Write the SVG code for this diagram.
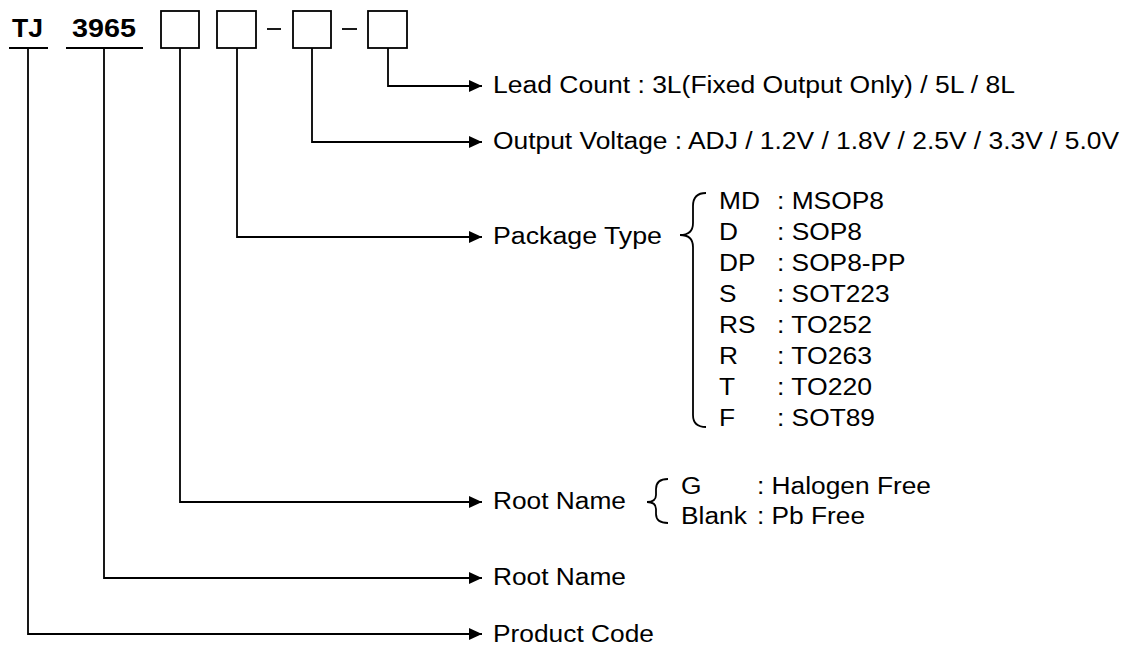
<svg xmlns="http://www.w3.org/2000/svg" width="1139" height="649" viewBox="0 0 1139 649">
<style>
.t{font-family:"Liberation Sans",Arial,sans-serif;font-size:23px;fill:#000}
.b{font-family:"Liberation Sans",Arial,sans-serif;font-size:25px;font-weight:bold;fill:#000}
.ln{fill:none;stroke:#000;stroke-width:1.8}
.bx{fill:#fff;stroke:#000;stroke-width:1.8}
</style>
<defs>
<marker id="ah" markerUnits="userSpaceOnUse" markerWidth="14" markerHeight="12" refX="13" refY="6" orient="auto">
<path d="M0,0 L13,6 L0,12 z" fill="#000"/>
</marker>
</defs>
<rect width="1139" height="649" fill="#fff"/>
<g id="code">
<text class="b" x="12" y="37" textLength="31" lengthAdjust="spacingAndGlyphs">TJ</text>
<line class="ln" x1="9" y1="48" x2="48" y2="48"/>
<text class="b" x="72" y="37" textLength="64" lengthAdjust="spacingAndGlyphs">3965</text>
<line class="ln" x1="66" y1="48" x2="143" y2="48"/>
<rect class="bx" x="161" y="11" width="38" height="37"/>
<rect class="bx" x="217" y="11" width="39" height="37"/>
<line class="ln" x1="267" y1="29" x2="281" y2="29"/>
<rect class="bx" x="293" y="11" width="38" height="37"/>
<line class="ln" x1="342" y1="29" x2="357" y2="29"/>
<rect class="bx" x="368" y="11" width="39" height="37"/>
</g>
<g id="connectors">
<path class="ln" d="M388,48 V86 H482" marker-end="url(#ah)"/>
<path class="ln" d="M312,48 V142 H482" marker-end="url(#ah)"/>
<path class="ln" d="M237,48 V237 H482" marker-end="url(#ah)"/>
<path class="ln" d="M180,48 V502 H482" marker-end="url(#ah)"/>
<path class="ln" d="M104,48 V578 H482" marker-end="url(#ah)"/>
<path class="ln" d="M28,48 V634 H482" marker-end="url(#ah)"/>
</g>
<g id="lead-count">
<text class="t" x="493" y="93" textLength="522" lengthAdjust="spacingAndGlyphs">Lead Count : 3L(Fixed Output Only) / 5L / 8L</text>
</g>
<g id="output-voltage">
<text class="t" x="493" y="149" textLength="626" lengthAdjust="spacingAndGlyphs">Output Voltage : ADJ / 1.2V / 1.8V / 2.5V / 3.3V / 5.0V</text>
</g>
<g id="package-type">
<text class="t" x="493" y="244" textLength="169" lengthAdjust="spacingAndGlyphs">Package Type</text>
<path class="ln" d="M706,193 Q693,193 693,206 L693,223 Q693,235 680,235 Q693,235 693,247 L693,415 Q693,427 706,427"/>
<text class="t" x="719" y="209" textLength="41" lengthAdjust="spacingAndGlyphs">MD</text>
<text class="t" x="777" y="209" textLength="107" lengthAdjust="spacingAndGlyphs">: MSOP8</text>
<text class="t" x="719" y="240" textLength="19" lengthAdjust="spacingAndGlyphs">D</text>
<text class="t" x="777" y="240" textLength="85" lengthAdjust="spacingAndGlyphs">: SOP8</text>
<text class="t" x="719" y="271" textLength="36.5" lengthAdjust="spacingAndGlyphs">DP</text>
<text class="t" x="777" y="271" textLength="128.6" lengthAdjust="spacingAndGlyphs">: SOP8-PP</text>
<text class="t" x="719" y="302" textLength="17.5" lengthAdjust="spacingAndGlyphs">S</text>
<text class="t" x="777" y="302" textLength="112.6" lengthAdjust="spacingAndGlyphs">: SOT223</text>
<text class="t" x="719" y="333" textLength="36.5" lengthAdjust="spacingAndGlyphs">RS</text>
<text class="t" x="777" y="333" textLength="95" lengthAdjust="spacingAndGlyphs">: TO252</text>
<text class="t" x="719" y="364" textLength="19" lengthAdjust="spacingAndGlyphs">R</text>
<text class="t" x="777" y="364" textLength="95" lengthAdjust="spacingAndGlyphs">: TO263</text>
<text class="t" x="719" y="395" textLength="16.1" lengthAdjust="spacingAndGlyphs">T</text>
<text class="t" x="777" y="395" textLength="95" lengthAdjust="spacingAndGlyphs">: TO220</text>
<text class="t" x="719" y="426" textLength="16.1" lengthAdjust="spacingAndGlyphs">F</text>
<text class="t" x="777" y="426" textLength="98" lengthAdjust="spacingAndGlyphs">: SOT89</text>
</g>
<g id="root-name-suffix">
<text class="t" x="493" y="509" textLength="133" lengthAdjust="spacingAndGlyphs">Root Name</text>
<path class="ln" d="M668,479 Q656,479 656,489 L656,495 Q656,502 647,502 Q656,502 656,509 L656,514 Q656,523 668,523"/>
<text class="t" x="681" y="494" textLength="20.5" lengthAdjust="spacingAndGlyphs">G</text>
<text class="t" x="757" y="494" textLength="174" lengthAdjust="spacingAndGlyphs">: Halogen Free</text>
<text class="t" x="681" y="524" textLength="65.8" lengthAdjust="spacingAndGlyphs">Blank</text>
<text class="t" x="757" y="524" textLength="108" lengthAdjust="spacingAndGlyphs">: Pb Free</text>
</g>
<g id="root-name">
<text class="t" x="493" y="585" textLength="133" lengthAdjust="spacingAndGlyphs">Root Name</text>
</g>
<g id="product-code">
<text class="t" x="493" y="642" textLength="161" lengthAdjust="spacingAndGlyphs">Product Code</text>
</g>
</svg>
